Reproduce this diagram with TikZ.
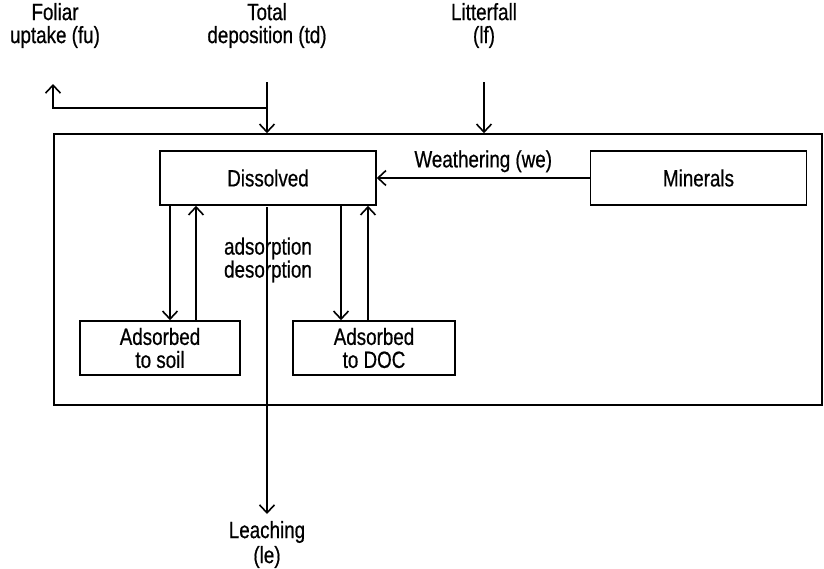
\documentclass[tikz,border=0pt]{standalone}
\usepackage{fontspec}
\setmainfont{Liberation Sans}[FakeStretch=0.8,FakeBold=0.6]
\usetikzlibrary{arrows.meta}
\begin{document}
\begin{tikzpicture}[x=1pt,y=-1pt,
  line width=1.6pt,
  every node/.style={font=\fontsize{23.5}{23}\selectfont},
  pool/.style={draw,minimum width=#1,minimum height=54pt,inner sep=0pt,align=center},
  pool/.default=216pt,
  flow/.style={-{Straight Barb[length=8pt,width=15pt,line width=1.6pt]}},
  lbl/.style={align=center,inner sep=1pt}]
\useasboundingbox (0,0) rectangle (824,568);
% soil compartment
\node[draw,minimum width=768pt,minimum height=271pt,inner sep=0pt] (soil) at (438,269.5) {};
% pools
\node[pool] (diss) at (268,178) {Dissolved};
\node[pool] (min) at (698.5,178) {Minerals};
\node[pool=160pt] (asoil) at (160,348) {Adsorbed\\to soil};
\node[pool=162pt] (adoc) at (374,348) {Adsorbed\\to DOC};
% external fluxes
\node[lbl] (fu) at (55,25.5) {Foliar\\uptake (fu)};
\node[lbl] (td) at (267,25.5) {Total\\deposition (td)};
\node[lbl] (lf) at (484,25.5) {Litterfall\\(lf)};
\node[lbl,font=\fontsize{23.5}{25}\selectfont] (le) at (267,544.5) {Leaching\\(le)};
\coordinate (tdtop) at (267,82);
\coordinate (split) at (267,108);
\coordinate (fuend) at (53,84);
\coordinate (lftop) at (484,82);
\coordinate (lebot) at (267,514);
\draw[flow] (tdtop) -- (tdtop |- soil.north);
\draw[flow] (split) -| (fuend);
\draw[flow] (lftop) -- (lftop |- soil.north);
% weathering
\draw[flow] (min.west) -- (diss.east) node[midway,above=5pt,inner sep=0pt] (we) {Weathering (we)};
% sorption exchanges
\draw[flow] (diss.south -| 170,0) -- (asoil.north -| 170,0);
\draw[flow] (asoil.north -| 196,0) -- (diss.south -| 196,0);
\draw[flow] (diss.south -| 341,0) -- (adoc.north -| 341,0);
\draw[flow] (adoc.north -| 368,0) -- (diss.south -| 368,0);
% leaching
\draw[flow] (267,207) coordinate (lestart) -- (lebot);
\node[lbl,inner sep=0pt] (ads) at (268,260) {adsorption\\desorption};
\end{tikzpicture}
\end{document}
